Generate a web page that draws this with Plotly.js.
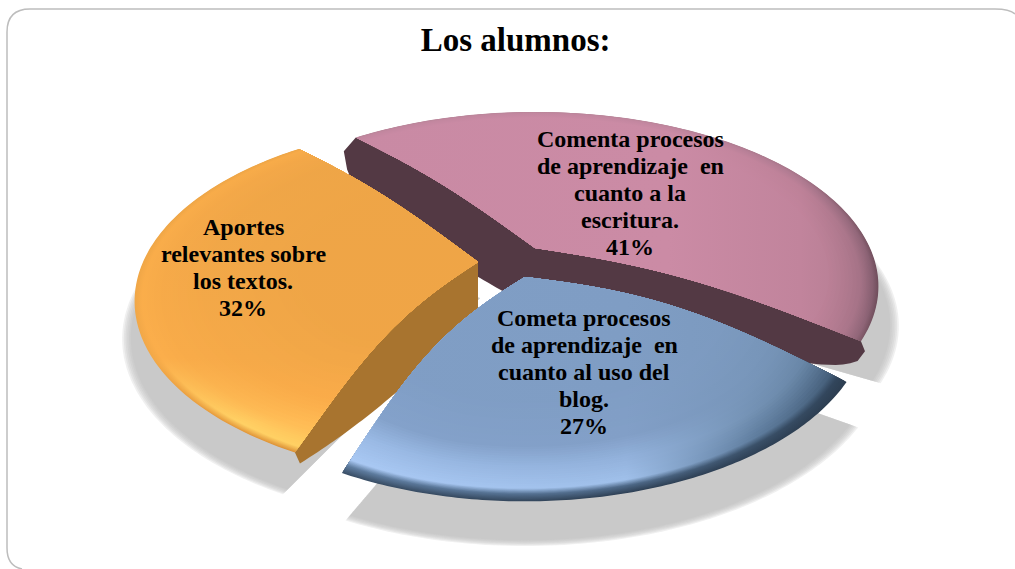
<!DOCTYPE html>
<html><head><meta charset="utf-8">
<script src="https://cdn.plot.ly/plotly-3.0.1.min.js"></script>
<style>html,body{margin:0;padding:0;background:#fff}#c{width:1015px;height:569px}</style>
</head><body><div id="c"></div>
<script>
const categories = ["Comenta procesos<br>de aprendizaje  en<br>cuanto a la<br>escritura.", "Cometa procesos<br>de aprendizaje  en<br>cuanto al uso del<br>blog.", "Aportes<br>relevantes sobre<br>los textos."];
const values = [41, 27, 32];
const chartTitle = "Los alumnos:";

// drawing geometry (perspective disc, slice offsets, colours)
const startDeg = -38.8, R = 335, K = 0.22;
const heights = [166,175,170];
const apex = [[535,248],[525,277],[478,262]];
const viewAdjust = [[0,11.2],[13.2,0],[0,0]];          // degrees the 3D view moves each slice edge
const bows = [[[4,-4],[2,-12]],[[4,-18],[-12,-14]],[[-10,-12],[3,-5]]]; // dome bulge of radial edges
// slice, edge, depth, lean, taper power, taper root
const walls = [[0,0,62,-12,6,0.5],[0,1,45,4,6,0.5],[2,0,50,5,2.5,1]];
const wallColors = ['#533944','#3a5068','#a8742f'];
const labelPos = [[630,139],[584,318],[243,227]];
const shadows = [{shift:[6,38],scale:1.03,trim:[30,0]},{shift:[0,33],scale:1.04,trim:[2,2]},{shift:[2,36],scale:1.03,trim:[1,24]}];
const shading = [
 {type:'horizontal',start:350,stop:880,stops:[0,0.6,0.85,0.97,1],keys:[
  [1,['#b98599','#b98599','#a57488','#7a5564','#6e4d5b']],
  [0.985,['#c387a0','#c387a0','#b07b91','#8f6577','#7f5a6b']],
  [0.95,['#c98aa4','#cb8ba5','#bd8198','#a47286','#96697b']],
  [0.85,['#c98aa4','#cb8ba5','#c2849c','#b57e92','#a87487']]]},
 {type:'horizontal',start:340,stop:860,stops:[0,0.55,0.8,1],keys:[
  [1,['#3b5068','#2f4156','#2f4156','#2d3e50']],
  [0.975,['#5f7da0','#4f6a89','#3a5068','#2f4258']],
  [0.955,['#a9c8f3','#9fbfe9','#5f7d9e','#3d556e']],
  [0.88,['#9bbbe6','#93b2dc','#7391b3','#5d7a99']],
  [0.8,['#84a2cb','#829fc7','#7795b9','#6d8aab']],
  [0.6,['#7f9dc4','#7f9dc4','#7c9abf','#7593b6']]]},
 {type:'vertical',start:150,stop:470,stops:[0,0.65,0.85,1],keys:[
  [1,['#eda546','#f2a848','#e59a3c','#d68f36']],
  [0.98,['#f7ab49','#fbae4b','#ffd064','#ffcf62']],
  [0.92,['#f2a748','#f8ab49','#ffbd56','#ffc45a']],
  [0.8,['#eea547','#f5a948','#fdad4a','#fdaf4c']],
  [0.5,['#eea547','#efa546','#f3a646','#f3a646']]]}
];

const total = values.reduce((a,b)=>a+b,0);
let acc = startDeg; const angles = [];
values.forEach((v,i)=>{const a=acc; acc+=v/total*360; angles.push([a+viewAdjust[i][0],acc+viewAdjust[i][1]]);});

function proj(i,deg,f){
  const t=deg*Math.PI/180,u=f*Math.sin(t),v=f*Math.cos(t),s=1/(1+K*v);
  return [apex[i][0]+R*u*s, apex[i][1]-heights[i]*v*s];
}
function edgePoint(i,e,r){
  const p=proj(i,angles[i][e],r),b=Math.sin(Math.PI*Math.min(r,1)),o=bows[i][e];
  return [p[0]+o[0]*b,p[1]+o[1]*b];
}
function sector(i,f){
  const xs=[],ys=[],n=120,m=30,sf=Math.sin(Math.PI*f);
  const add=p=>{xs.push(p[0]);ys.push(p[1]);};
  for(let j=0;j<=m;j++)add(edgePoint(i,0,f*j/m));
  for(let j=0;j<=n;j++){
    const tau=j/n,p=proj(i,angles[i][0]+(angles[i][1]-angles[i][0])*tau,f);
    const w0=Math.pow(Math.max(0,1-tau*5),2)*sf,w1=Math.pow(Math.max(0,1-(1-tau)*5),2)*sf;
    add([p[0]+bows[i][0][0]*w0+bows[i][1][0]*w1,p[1]+bows[i][0][1]*w0+bows[i][1][1]*w1]);
  }
  for(let j=m;j>=0;j--)add(edgePoint(i,1,f*j/m));
  return {xs,ys};
}
function wall([i,e,d,lean,pw,root]){
  const xs=[],ys=[],bx=[],by=[],n=50;
  for(let j=0;j<=n;j++){
    const r=j/n,p=edgePoint(i,e,r),q=proj(i,angles[i][e],r),prof=0.22+0.78*Math.pow(1-Math.pow(r,pw),root);
    xs.push(p[0]);ys.push(p[1]);
    bx.push(q[0]+lean*r);by.push(q[1]+d*prof);
  }
  return {xs:xs.concat(bx.reverse()),ys:ys.concat(by.reverse())};
}
function shadowPoly(i,sc){
  const s=shadows[i],xs=[],ys=[],n=80,a=angles[i][0]+s.trim[0],b=angles[i][1]-s.trim[1];
  const c=apex[i];
  xs.push(c[0]+s.shift[0]);ys.push(c[1]+s.shift[1]);
  for(let j=0;j<=n;j++){
    const p=proj(i,a+(b-a)*j/n,1);
    xs.push(c[0]+(p[0]-c[0])*sc+s.shift[0]);ys.push(c[1]+(p[1]-c[1])*sc+s.shift[1]);
  }
  return {xs,ys};
}
const hex=c=>[1,3,5].map(k=>parseInt(c.slice(k,k+2),16));
const mix=(a,b,t)=>{const A=hex(a),B=hex(b);return 'rgb('+A.map((v,k)=>Math.round(v+(B[k]-v)*t)).join(',')+')';};

const traces=[];
function poly(o,fill,grad){
  const t={type:'scatter',mode:'lines',x:o.xs,y:o.ys,fill:'toself',line:{width:0,simplify:false},hoverinfo:'skip',showlegend:false,fillcolor:fill};
  if(grad)t.fillgradient=grad;
  traces.push(t);
}
[0,1,2].forEach(i=>{for(let l=0;l<6;l++)poly(shadowPoly(i,shadows[i].scale+0.012-l*0.005),'rgba(185,185,185,0.22)');});
[0,2,1].forEach(i=>{
  walls.filter(w=>w[0]===i).forEach(w=>poly(wall(w),wallColors[i]));
  const sh=shading[i];
  for(let k=0;k<sh.keys.length-1;k++){
    const [f0,c0]=sh.keys[k],[f1,c1]=sh.keys[k+1],steps=9;
    for(let q=0;q<steps;q++){
      const t=q/steps,cols=c0.map((c,x)=>mix(c,c1[x],t));
      poly(sector(i,f0+(f1-f0)*t),cols[0],{type:sh.type,start:sh.start,stop:sh.stop,colorscale:sh.stops.map((p,x)=>[p,cols[x]])});
    }
  }
});

const annotations=[];
categories.forEach((c,i)=>{
  c.split('<br>').concat([values[i]+'%']).forEach((line,k)=>{
    annotations.push({x:labelPos[i][0],y:labelPos[i][1]+k*27,xref:'x',yref:'y',text:line,showarrow:false,
      xanchor:'center',yanchor:'middle',font:{family:'"Liberation Serif",serif',size:24,color:'#000',weight:700}});
  });
});

const layout={
  width:1015,height:569,margin:{l:0,r:0,t:0,b:0},paper_bgcolor:'#fff',plot_bgcolor:'#fff',showlegend:false,
  title:{text:'<b>'+chartTitle+'</b>',font:{family:'"Liberation Serif",serif',size:33,color:'#000'},x:0.508,xanchor:'center',xref:'paper',y:1-39/569,yref:'paper',yanchor:'middle'},
  xaxis:{range:[0,1015],visible:false,fixedrange:true},
  yaxis:{range:[569,0],visible:false,fixedrange:true},
  shapes:[{type:'path',path:'M1015,14 Q1010,9 995,9 L30,9 Q7,9 7,32 L7,548 Q7,566 22,569',line:{color:'#bdbdbd',width:1.5},layer:'below'}],
  annotations
};
Plotly.newPlot('c',traces,layout,{displayModeBar:false,staticPlot:true});
</script></body></html>
